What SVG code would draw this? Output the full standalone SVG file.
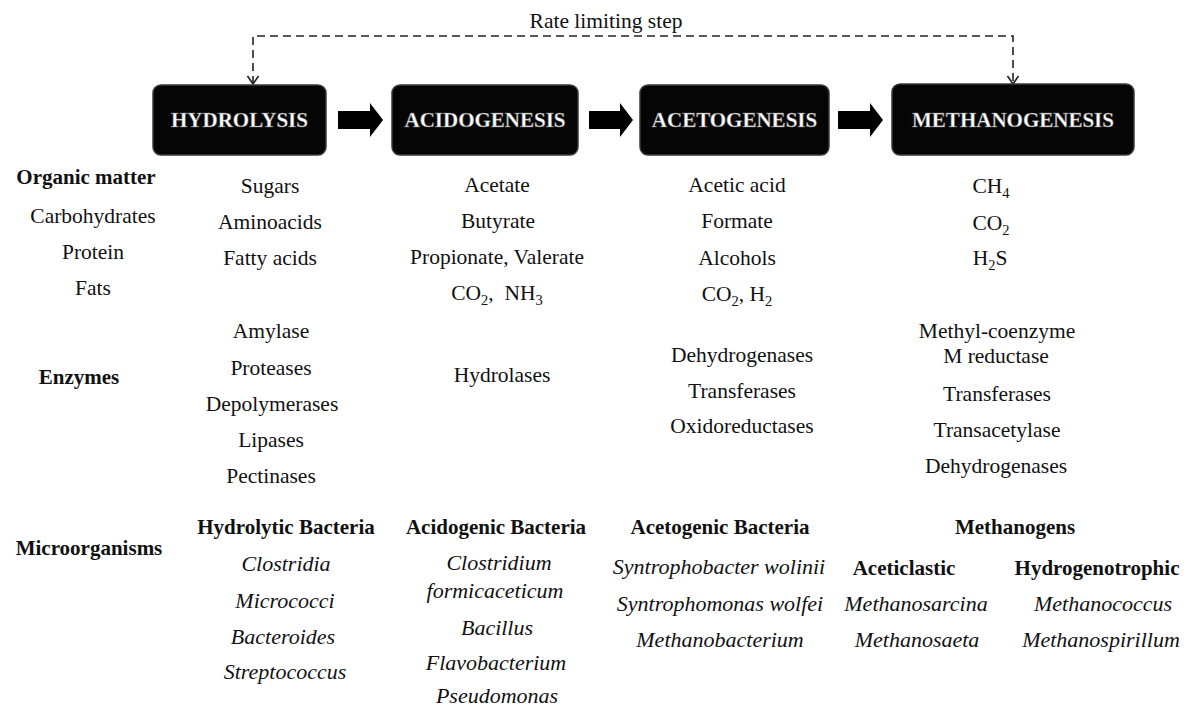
<svg xmlns="http://www.w3.org/2000/svg" width="1187" height="710" viewBox="0 0 1187 710">
<style>
text{font-family:"Liberation Serif","Times New Roman",serif;font-size:21.5px;fill:#111;text-anchor:middle}
.b{font-weight:bold;font-size:21px}
.i{font-style:italic;font-size:22px}
.box{fill:#050505;stroke:#3a3a3a;stroke-width:1.5}
.bt{fill:#fff;font-weight:bold;font-size:21px;stroke:#666;stroke-width:0.4}
.sub{font-size:14.5px}
.blk{fill:#000}
.dash{fill:none;stroke:#222;stroke-width:1.6;stroke-dasharray:8 5}
</style>
<defs>
<marker id="v" viewBox="0 0 10 12" refX="9" refY="6" markerWidth="10" markerHeight="12" markerUnits="userSpaceOnUse" orient="auto-start-reverse">
<path d="M1,0.5 L9,6 L1,11.5" fill="none" stroke="#222" stroke-width="1.6" stroke-dasharray="none"/>
</marker>
</defs>
<rect width="1187" height="710" fill="#fff"/>

<g id="connectors">
<path class="dash" d="M253,84 V36 H1013 V84" marker-start="url(#v)" marker-end="url(#v)"/>
<text x="606" y="28">Rate limiting step</text>
<path class="blk" d="M338,111 H370 V103 L383,120 L370,137 V129 H338 Z"/>
<path class="blk" d="M589,111 H620 V103 L633,120 L620,137 V129 H589 Z"/>
<path class="blk" d="M838,111 H870 V103 L883,120 L870,137 V129 H838 Z"/>
</g>

<g id="hydrolysis">
<rect class="box" x="153" y="85" width="173" height="70" rx="8"/>
<text class="bt" x="239.5" y="127">HYDROLYSIS</text>
</g>
<g id="acidogenesis">
<rect class="box" x="392" y="85" width="186" height="70" rx="8"/>
<text class="bt" x="485" y="127">ACIDOGENESIS</text>
</g>
<g id="acetogenesis">
<rect class="box" x="640" y="85" width="189" height="70" rx="8"/>
<text class="bt" x="734.5" y="127">ACETOGENESIS</text>
</g>
<g id="methanogenesis">
<rect class="box" x="892" y="84" width="242" height="71" rx="8"/>
<text class="bt" x="1013" y="127">METHANOGENESIS</text>
</g>

<g id="row-labels">
<text class="b" x="86" y="184">Organic matter</text>
<text x="93" y="223">Carbohydrates</text>
<text x="93" y="259">Protein</text>
<text x="93" y="295">Fats</text>
<text class="b" x="79" y="384">Enzymes</text>
<text class="b" x="89" y="555">Microorganisms</text>
</g>

<g id="hydrolysis-details">
<text x="270" y="193">Sugars</text>
<text x="270" y="229">Aminoacids</text>
<text x="270" y="265">Fatty acids</text>
<text x="271" y="338">Amylase</text>
<text x="271" y="375">Proteases</text>
<text x="272" y="411">Depolymerases</text>
<text x="271" y="447">Lipases</text>
<text x="271" y="483">Pectinases</text>
<text class="b" x="286" y="534">Hydrolytic Bacteria</text>
<text class="i" x="286" y="571">Clostridia</text>
<text class="i" x="285" y="608">Micrococci</text>
<text class="i" x="283" y="644">Bacteroides</text>
<text class="i" x="285" y="679">Streptococcus</text>
</g>

<g id="acidogenesis-details">
<text x="497" y="192">Acetate</text>
<text x="498" y="228">Butyrate</text>
<text x="497" y="264">Propionate, Valerate</text>
<text x="497" y="300" xml:space="preserve">CO<tspan class="sub" dy="5">2</tspan><tspan dy="-5">,  NH</tspan><tspan class="sub" dy="5">3</tspan></text>
<text x="502" y="382">Hydrolases</text>
<text class="b" x="496" y="534">Acidogenic Bacteria</text>
<text class="i" x="499" y="570">Clostridium</text>
<text class="i" x="495" y="598">formicaceticum</text>
<text class="i" x="497" y="635">Bacillus</text>
<text class="i" x="496" y="670">Flavobacterium</text>
<text class="i" x="497" y="703">Pseudomonas</text>
</g>

<g id="acetogenesis-details">
<text x="737" y="192">Acetic acid</text>
<text x="737" y="228">Formate</text>
<text x="737" y="265">Alcohols</text>
<text x="737" y="301">CO<tspan class="sub" dy="5">2</tspan><tspan dy="-5">, H</tspan><tspan class="sub" dy="5">2</tspan></text>
<text x="742" y="362">Dehydrogenases</text>
<text x="742" y="398">Transferases</text>
<text x="742" y="433">Oxidoreductases</text>
<text class="b" x="720" y="534">Acetogenic Bacteria</text>
<text class="i" x="719" y="574">Syntrophobacter wolinii</text>
<text class="i" x="720" y="611">Syntrophomonas wolfei</text>
<text class="i" x="720" y="647">Methanobacterium</text>
</g>

<g id="methanogenesis-details">
<text x="991" y="193">CH<tspan class="sub" dy="5">4</tspan></text>
<text x="991" y="230">CO<tspan class="sub" dy="5">2</tspan></text>
<text x="990" y="265">H<tspan class="sub" dy="5">2</tspan><tspan dy="-5">S</tspan></text>
<text x="997" y="338">Methyl-coenzyme</text>
<text x="996" y="363">M reductase</text>
<text x="997" y="401">Transferases</text>
<text x="997" y="437">Transacetylase</text>
<text x="996" y="473">Dehydrogenases</text>
<text class="b" x="1015" y="534">Methanogens</text>
<text class="b" x="904" y="575">Aceticlastic</text>
<text class="b" x="1097" y="575">Hydrogenotrophic</text>
<text class="i" x="916" y="611">Methanosarcina</text>
<text class="i" x="1103" y="611">Methanococcus</text>
<text class="i" x="917" y="647">Methanosaeta</text>
<text class="i" x="1101" y="647">Methanospirillum</text>
</g>
</svg>
